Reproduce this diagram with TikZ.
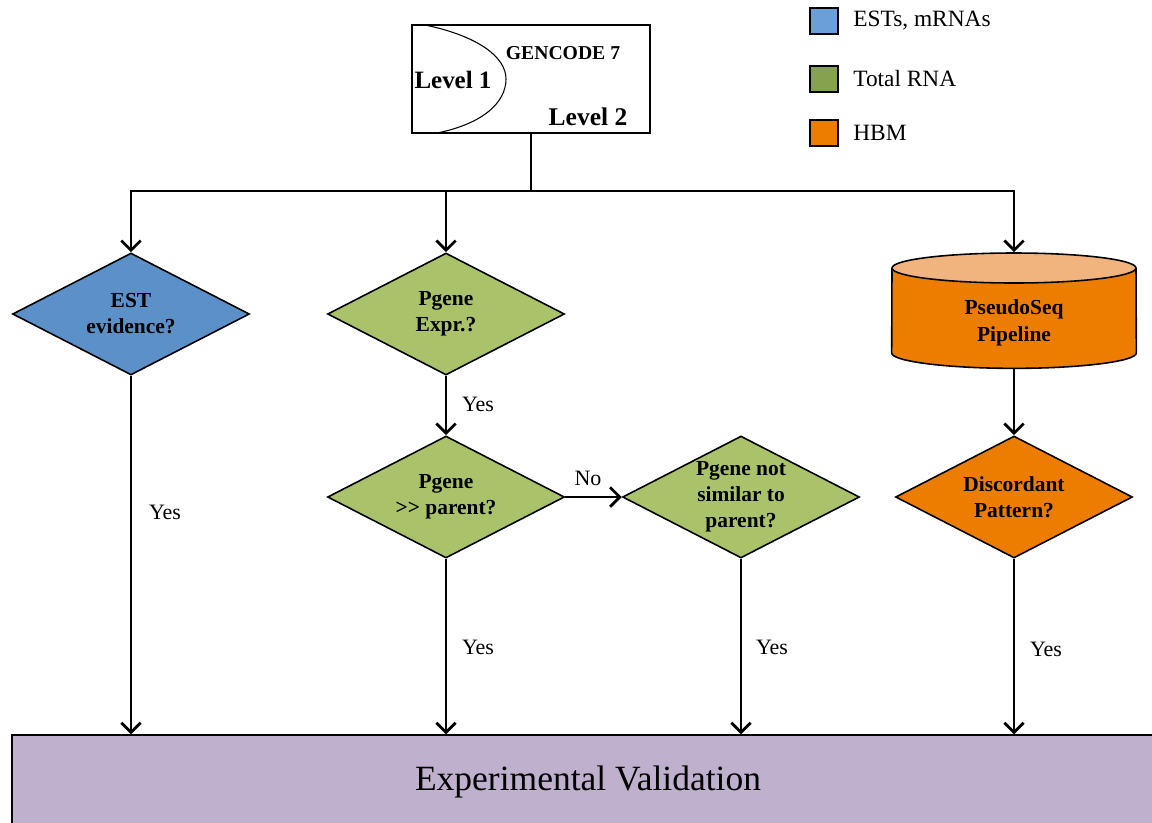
\documentclass[tikz,border=0pt]{standalone}
\usepackage{fontspec}
\setmainfont{Liberation Serif}
\usetikzlibrary{shapes.geometric,arrows.meta}
\definecolor{estblue}{HTML}{5C90C9}
\definecolor{estkey}{HTML}{6A9FD9}
\definecolor{rnagreen}{HTML}{AAC36B}
\definecolor{rnakey}{HTML}{86A24E}
\definecolor{hbm}{HTML}{EC7D00}
\definecolor{hbmtop}{HTML}{F1B47F}
\definecolor{valpurple}{HTML}{BFB0CE}
\begin{document}
\begin{tikzpicture}[
        x=0.02cm, y=-0.02cm,
        decision/.style={diamond, draw, line width=0.9pt, minimum width=4.74cm, minimum height=2.44cm,
            inner sep=-12pt, align=center, font=\fontsize{12.2}{14.8}\selectfont\bfseries},
        link/.style={draw, line width=1.1pt},
        arrow/.style={link, -{Straight Barb[length=5.5pt,width=11pt,line width=1.6pt]}},
        answer/.style={font=\fontsize{12.5}{15}\selectfont},
        keybox/.style={draw, line width=1pt, minimum width=0.56cm, minimum height=0.52cm, inner sep=0pt},
        keytext/.style={anchor=west, inner sep=0pt, font=\fontsize{13.3}{16}\selectfont},
    ]
    \useasboundingbox (0,0) rectangle (1152,822);

    % legend
    \node[keybox, fill=estkey] (estkey) at (824,21) {};
    \node[keybox, fill=rnakey] (rnakey) at (824,79) {};
    \node[keybox, fill=hbm] (hbmkey) at (824,133) {};
    \node[keytext] (esttext) at (853,21) {ESTs, mRNAs};
    \node[keytext] (rnatext) at (853,79) {Total RNA};
    \node[keytext] (hbmtext) at (853,133) {HBM};

    % gencode box
    \node[draw, line width=0.7pt, minimum width=4.76cm, minimum height=2.16cm] (gencode) at (531,79) {};
    \draw[line width=0.6pt] (425,25) .. controls (478,36) and (506,57) .. (506,79)
        .. controls (506,103) and (482,124) .. (437,133);
    \node[font=\fontsize{11.2}{13}\selectfont\bfseries] (gc7) at (563,53) {GENCODE 7};
    \node[font=\fontsize{14.2}{17}\selectfont\bfseries] (lvl1) at (453,80) {Level 1};
    \node[font=\fontsize{14.5}{17}\selectfont\bfseries] (lvl2) at (588,117) {Level 2};

    % decisions
    \node[decision, fill=estblue] (est) at (131,314) {EST\\evidence?};
    \node[decision, fill=rnagreen] (expr) at (446,314) {Pgene\\Expr.?};
    \node[decision, fill=rnagreen] (gtparent) at (446,497) {Pgene\\>{}> parent?};
    \node[decision, fill=rnagreen] (notsim) at (741,497) {Pgene not\\similar to\\parent?};
    \node[decision, fill=hbm] (discord) at (1014,497) {Discordant\\Pattern?};

    % pipeline cylinder
    \node[ellipse, fill=hbm, minimum width=4.88cm, minimum height=0.6cm] (pipebot) at (1014,353) {};
    \fill[hbm] (892,268) rectangle (1136,353);
    \draw[line width=0.9pt] (892,268) -- (pipebot.west) .. controls +(0,8.3) and +(-67.3,0) .. (pipebot.south)
        .. controls +(67.3,0) and +(0,8.3) .. (pipebot.east) -- (1136,268);
    \node[ellipse, draw, line width=0.9pt, fill=hbmtop, minimum width=4.88cm, minimum height=0.6cm] (pipetop) at (1014,268) {};
    \node[align=center, font=\fontsize{12.2}{15.3}\selectfont\bfseries] (pipe) at (1014,323) {PseudoSeq\\Pipeline};

    % validation
    \node[draw, line width=0.7pt, fill=valpurple, minimum width=23.04cm, minimum height=1.88cm,
        font=\fontsize{20.2}{24}\selectfont] (valid) at (588,782) {Experimental Validation};

    % connectors
    \draw[link] (gencode.south) -- (531,191) coordinate (split);
    \draw[arrow] (split) -| (est.north);
    \draw[arrow] (split) -| (expr.north);
    \draw[arrow] (split) -| (pipetop.north);
    \draw[arrow] (est.south) -- (est.south |- valid.north);
    \draw[arrow] (expr.south) -- (gtparent.north);
    \draw[arrow] (gtparent.south) -- (gtparent.south |- valid.north);
    \draw[arrow] (gtparent.east) -- (notsim.west);
    \draw[arrow] (notsim.south) -- (notsim.south |- valid.north);
    \draw[arrow] (pipebot.south) -- (discord.north);
    \draw[arrow] (discord.south) -- (discord.south |- valid.north);

    % answers
    \node[answer] (yes1) at (165,512) {Yes};
    \node[answer] (yes2) at (478,404) {Yes};
    \node[answer] (yes3) at (478,647) {Yes};
    \node[answer] (no1) at (588,478) {No};
    \node[answer] (yes4) at (772,647) {Yes};
    \node[answer] (yes5) at (1046,649) {Yes};
\end{tikzpicture}
\end{document}
